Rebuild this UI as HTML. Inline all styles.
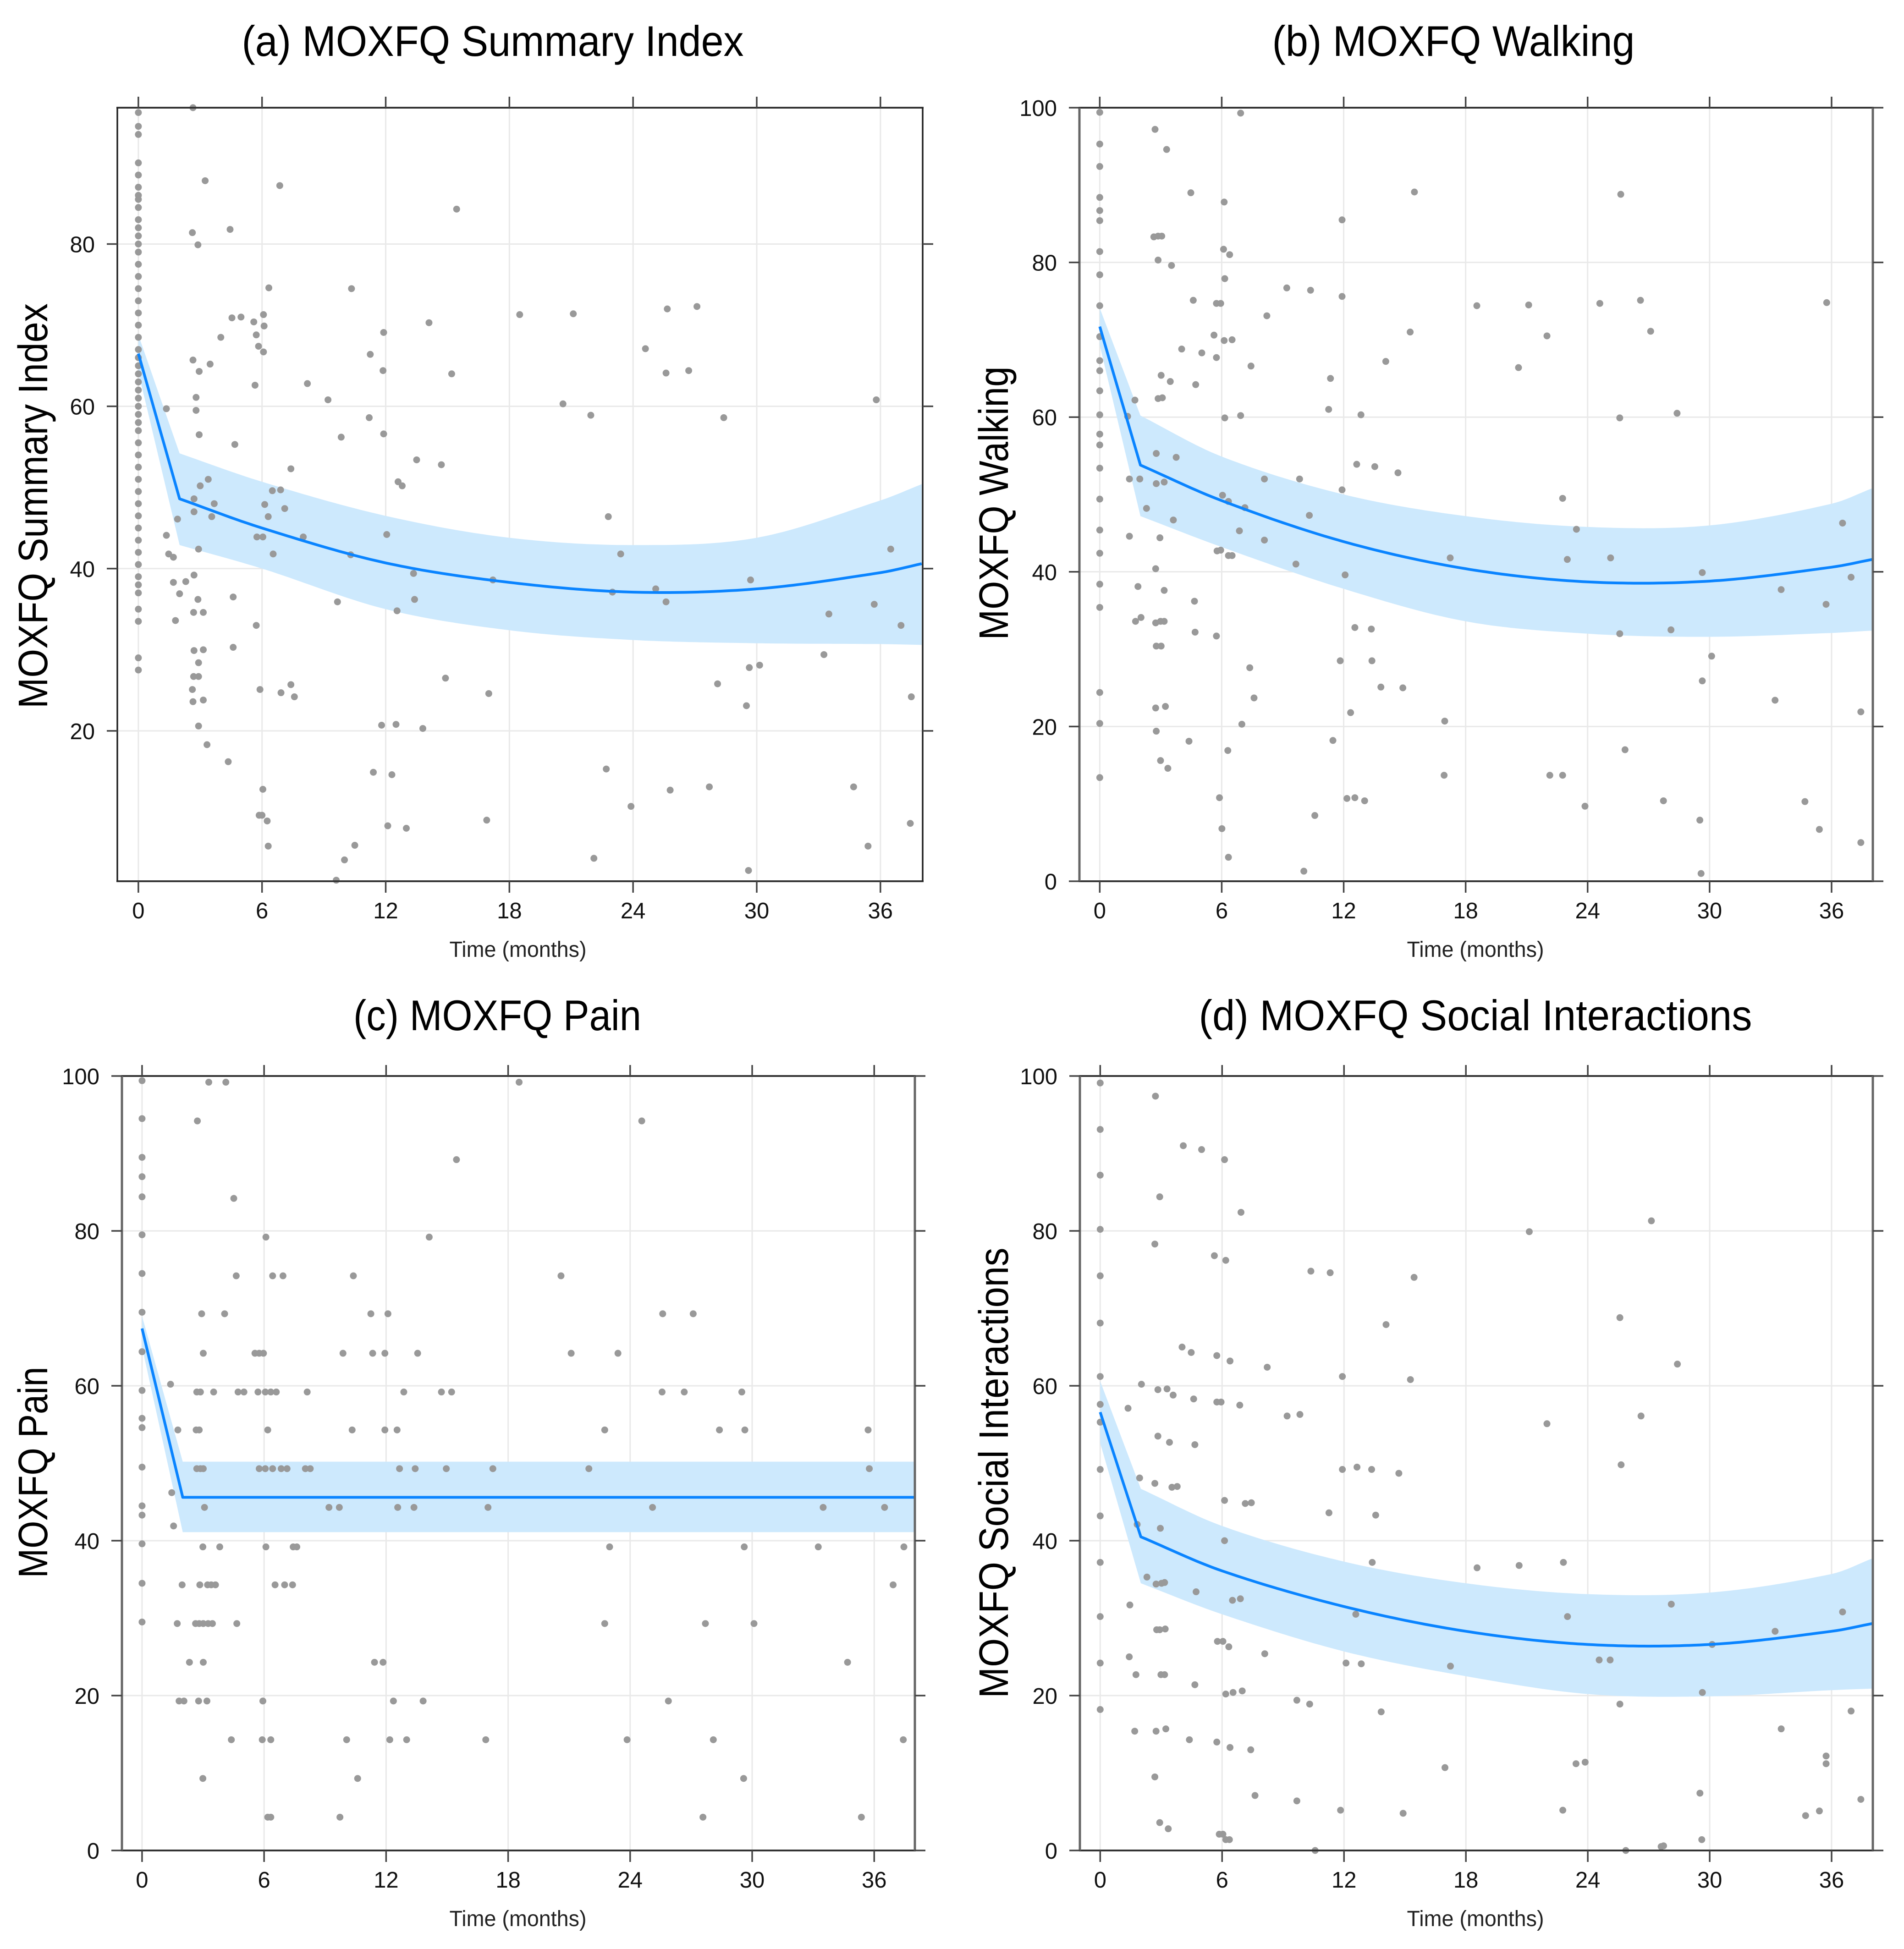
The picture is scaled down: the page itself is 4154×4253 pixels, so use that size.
<!DOCTYPE html>
<html>
<head>
<meta charset="utf-8">
<style>
html,body{margin:0;padding:0;background:#fff;}
svg{display:block;}
text{font-family:"Liberation Sans","DejaVu Sans",sans-serif;}
</style>
</head>
<body>
<svg id="chart" xmlns="http://www.w3.org/2000/svg" width="4154" height="4253" viewBox="0 0 4154 4253"></svg>
<script>
// ---------- DATA ----------
const xTicks = [0, 6, 12, 18, 24, 30, 36];
const yTicksA = [20, 40, 60, 80];
const yTicksB = [0, 20, 40, 60, 80, 100];

const titles = ["(a) MOXFQ Summary Index", "(b) MOXFQ Walking", "(c) MOXFQ Pain", "(d) MOXFQ Social Interactions"];
const yLabels = ["MOXFQ Summary Index", "MOXFQ Walking", "MOXFQ Pain", "MOXFQ Social Interactions"];

// fitted curve times
const curveT = [0, 2, 6, 12, 18, 24, 30, 36, 38];
const fitA = [66.5, 48.6, 45.0, 40.7, 38.3, 37.1, 37.5, 39.5, 40.6];
const upA  = [68.8, 54.2, 50.7, 46.5, 43.8, 42.9, 43.8, 48.4, 50.4];
const loA  = [64.2, 42.9, 40.0, 35.0, 32.4, 31.2, 30.8, 30.7, 30.6];
const fitB = [71.7, 53.8, 49.2, 43.9, 40.4, 38.7, 38.8, 40.6, 41.6];
const upB  = [74.1, 60.2, 54.9, 50.0, 47.2, 45.8, 46.0, 48.8, 50.8];
const loB  = [69.3, 47.2, 43.2, 37.8, 33.6, 32.0, 31.6, 32.1, 32.4];
const fitC = [67.4, 45.6, 45.6, 45.6, 45.6, 45.6, 45.6, 45.6, 45.6];
const upC  = [69.0, 50.2, 50.2, 50.2, 50.2, 50.2, 50.2, 50.2, 50.2];
const loC  = [65.0, 41.1, 41.1, 41.1, 41.1, 41.1, 41.1, 41.1, 41.1];
const fitD = [56.6, 40.5, 36.1, 31.5, 28.3, 26.6, 26.6, 28.3, 29.3];
const upD  = [60.6, 46.7, 41.9, 37.3, 34.5, 33.1, 33.3, 35.7, 37.7];
const loD  = [52.6, 34.5, 30.5, 25.7, 22.5, 20.2, 19.9, 20.7, 20.9];

// observed points [time, score]
const baseA = [96.2,94.5,93.5,90,88.5,87,86,85.5,84.5,83,82,81,80,79,77.5,76,74.5,73,71.5,70,68.5,67,66,65,64,63,62,61,60,59,58,57,55.5,54,52.5,51,49.5,48,46.5,45,43.5,42,40.5,39,38,37,35,33.5,29,27.5];
const ptsA = [[2.62,81.4],[2.89,79.9],[3.24,87.8],[4.45,81.8],[6.86,87.2],[15.44,84.3],[6.33,74.6],[10.34,74.5],[4.54,70.9],[4.98,71.0],[5.6,70.4],[6.07,71.3],[6.1,69.9],[5.83,67.4],[6.07,66.7],[5.72,68.8],[4.0,68.5],[2.65,65.7],[3.48,65.2],[2.95,64.3],[5.66,62.6],[2.8,61.1],[2.8,59.5],[1.36,59.7],[2.95,56.5],[4.68,55.3],[11.9,69.1],[11.25,66.4],[11.87,64.4],[18.5,71.3],[21.1,71.4],[14.1,70.3],[25.66,72.0],[27.1,72.3],[24.6,67.1],[25.6,64.1],[26.7,64.4],[15.2,64.0],[8.2,62.8],[9.2,60.8],[20.6,60.3],[21.95,58.9],[28.4,58.6],[35.8,60.8],[11.2,58.6],[11.9,56.6],[9.84,56.2],[13.5,53.4],[14.7,52.8],[7.4,52.3],[12.6,50.7],[12.8,50.2],[3.39,51.0],[3.0,50.2],[3.68,48.0],[2.7,48.6],[2.7,47.0],[3.56,46.4],[1.9,46.1],[6.13,47.9],[6.5,49.6],[6.9,49.7],[7.1,47.4],[6.3,46.4],[5.75,43.9],[6.04,43.9],[6.54,41.8],[8.0,43.9],[10.3,41.7],[12.05,44.2],[1.36,44.1],[1.47,41.8],[1.7,41.4],[2.92,42.4],[22.8,46.4],[23.4,41.8],[36.5,42.4],[1.7,38.3],[2.3,38.4],[2.7,39.2],[13.35,39.4],[17.2,38.6],[25.1,37.5],[23.0,37.1],[25.6,35.9],[29.7,38.6],[35.7,35.6],[37.0,33.0],[33.5,34.4],[9.66,35.9],[13.4,36.2],[12.55,34.8],[2.0,36.9],[2.89,36.2],[4.6,36.5],[2.68,34.6],[3.15,34.6],[1.8,33.6],[5.72,33.0],[2.7,29.9],[3.15,30.0],[4.6,30.3],[33.26,29.4],[29.64,27.8],[30.14,28.1],[2.68,26.7],[2.92,26.7],[2.92,28.4],[2.62,25.1],[5.9,25.1],[6.92,24.7],[7.4,25.7],[7.57,24.2],[2.65,23.6],[3.15,23.8],[14.9,26.5],[17.0,24.6],[28.1,25.8],[37.5,24.2],[29.5,23.1],[2.92,20.6],[11.8,20.7],[12.5,20.8],[13.8,20.3],[3.33,18.3],[4.36,16.2],[11.4,14.9],[12.3,14.6],[22.7,15.3],[6.04,12.8],[25.8,12.7],[27.7,13.1],[34.7,13.1],[5.86,9.6],[6.0,9.6],[6.25,8.9],[12.1,8.3],[13.0,8.0],[16.9,9.0],[23.9,10.7],[37.45,8.6],[6.3,5.8],[10.5,5.9],[10.0,4.1],[35.4,5.8],[22.1,4.3],[29.6,2.8],[9.6,1.6],[2.65,96.8]];

const baseB = [99.4,95.3,92.4,88.4,86.7,85.4,81.4,78.4,74.4,70.4,67.3,66.0,63.4,60.3,57.8,56.4,53.4,49.4,45.4,42.4,38.4,35.4,24.4,20.4,13.4];
const ptsB = [[2.72,97.2],[3.29,94.6],[6.93,99.3],[4.48,89.0],[6.12,87.8],[15.48,89.1],[25.63,88.8],[11.92,85.5],[2.66,83.3],[2.87,83.4],[3.05,83.4],[6.09,81.7],[6.39,81.0],[2.87,80.3],[3.53,79.6],[6.15,77.9],[9.2,76.7],[10.37,76.4],[4.6,75.1],[5.74,74.7],[5.95,74.7],[11.92,75.6],[8.22,73.1],[18.55,74.4],[21.1,74.5],[24.6,74.7],[26.6,75.1],[27.1,71.1],[15.27,71.0],[22.0,70.5],[35.76,74.8],[5.62,70.6],[6.12,69.9],[6.51,70.0],[4.03,68.8],[5.02,68.3],[5.74,67.7],[14.07,67.2],[7.44,66.6],[20.6,66.4],[3.02,65.4],[3.47,64.6],[4.72,64.2],[11.35,65.0],[2.87,62.4],[3.08,62.5],[1.73,62.2],[11.26,61.0],[6.93,60.2],[6.15,59.9],[12.85,60.3],[25.58,59.9],[28.4,60.5],[1.37,60.1],[2.78,55.3],[3.76,54.8],[12.64,53.9],[13.53,53.6],[14.67,52.8],[1.46,52.0],[1.97,52.0],[3.17,51.6],[2.78,51.4],[8.1,52.0],[9.83,52.0],[11.92,50.6],[6.04,49.9],[6.33,49.1],[7.14,48.3],[2.3,48.2],[3.62,46.7],[10.31,47.3],[6.87,45.3],[22.77,49.5],[23.45,45.5],[36.54,46.3],[1.46,44.6],[2.96,44.4],[8.1,44.1],[5.77,42.7],[5.95,42.8],[6.33,42.1],[6.51,42.1],[17.24,41.8],[23.0,41.6],[25.13,41.8],[9.65,41.0],[12.07,39.6],[2.75,40.4],[1.88,38.1],[3.17,37.6],[29.64,39.9],[33.52,37.7],[36.96,39.3],[35.73,35.8],[4.66,36.2],[1.76,33.6],[2.03,34.1],[2.75,33.4],[2.99,33.6],[3.17,33.6],[4.69,32.2],[5.74,31.7],[25.58,32.0],[28.1,32.5],[12.55,32.8],[13.36,32.6],[2.78,30.4],[3.02,30.4],[30.1,29.1],[11.83,28.5],[13.39,28.5],[7.38,27.6],[13.83,25.1],[14.91,25.0],[29.64,25.9],[33.22,23.4],[7.59,23.7],[2.75,22.4],[3.23,22.6],[12.34,21.8],[37.44,21.9],[6.99,20.3],[16.97,20.7],[2.78,19.4],[4.39,18.1],[11.47,18.2],[2.99,15.6],[3.35,14.6],[6.3,16.9],[25.84,17.0],[16.94,13.7],[22.14,13.7],[22.77,13.7],[5.89,10.8],[12.16,10.7],[12.55,10.8],[13.03,10.4],[27.73,10.4],[34.69,10.3],[23.87,9.7],[10.58,8.5],[6.01,6.8],[29.52,7.9],[35.4,6.7],[37.44,5.0],[6.33,3.1],[10.04,1.3],[29.58,1.0]];

const baseC = [99.4,94.5,89.5,87.0,84.4,79.5,74.5,69.5,64.4,59.4,55.8,54.6,49.5,44.5,43.3,39.6,34.5,29.5];
const ptsC = [[3.28,99.2],[4.12,99.2],[2.72,94.2],[18.54,99.2],[24.57,94.2],[15.46,89.2],[4.51,84.2],[6.09,79.2],[14.12,79.2],[4.63,74.2],[6.42,74.2],[6.93,74.2],[10.39,74.2],[20.6,74.2],[2.93,69.3],[4.06,69.3],[11.25,69.3],[12.09,69.3],[25.6,69.3],[27.1,69.3],[3.01,64.2],[5.55,64.2],[5.76,64.2],[5.97,64.2],[9.88,64.2],[11.34,64.2],[11.94,64.2],[13.55,64.2],[21.1,64.2],[23.4,64.2],[1.4,60.2],
[2.69,59.2],[2.87,59.2],[3.52,59.2],[4.72,59.2],[5.01,59.2],[5.7,59.2],[6.06,59.2],[6.33,59.2],[6.6,59.2],[8.12,59.2],[12.87,59.2],[14.72,59.2],[15.22,59.2],[25.57,59.2],[26.66,59.2],[29.49,59.2],
[1.76,54.3],[2.66,54.3],[2.81,54.3],[6.18,54.3],[10.33,54.3],[11.94,54.3],[12.54,54.3],[22.75,54.3],[28.39,54.3],[29.64,54.3],[35.7,54.3],
[2.69,49.3],[2.87,49.3],[3.01,49.3],[5.76,49.3],[6.06,49.3],[6.42,49.3],[6.84,49.3],[7.13,49.3],[8.03,49.3],[8.27,49.3],[12.66,49.3],[13.43,49.3],[14.96,49.3],[17.25,49.3],[21.97,49.3],[35.76,49.3],
[1.46,46.2],[1.55,41.9],
[3.07,44.3],[9.19,44.3],[9.7,44.3],[12.57,44.3],[13.37,44.3],[17.01,44.3],[25.1,44.3],[33.49,44.3],[36.51,44.3],
[2.99,39.2],[3.82,39.2],[6.09,39.2],[7.43,39.2],[7.61,39.2],[22.99,39.2],[29.61,39.2],[33.25,39.2],[37.46,39.2],
[1.97,34.3],[2.84,34.3],[3.22,34.3],[3.4,34.3],[3.61,34.3],[6.54,34.3],[7.01,34.3],[7.4,34.3],[36.93,34.3],
[1.73,29.3],[2.63,29.3],[2.81,29.3],[3.01,29.3],[3.25,29.3],[3.46,29.3],[4.66,29.3],[22.75,29.3],[27.7,29.3],[30.09,29.3],
[2.33,24.3],[3.01,24.3],[11.43,24.3],[11.85,24.3],[34.69,24.3],
[1.82,19.3],[2.06,19.3],[2.78,19.3],[3.19,19.3],[5.94,19.3],[12.36,19.3],[13.82,19.3],[25.88,19.3],
[4.39,14.3],[5.91,14.3],[6.33,14.3],[10.06,14.3],[12.18,14.3],[13.01,14.3],[16.9,14.3],[23.85,14.3],[28.09,14.3],[37.43,14.3],
[2.99,9.3],[10.6,9.3],[29.58,9.3],
[6.18,4.3],[6.33,4.3],[9.73,4.3],[27.58,4.3],[35.37,4.3]];

const baseD = [99.1,93.1,87.2,80.2,74.2,68.1,61.2,57.6,55.3,49.2,43.2,37.2,30.2,24.2,18.2];
const ptsD = [[2.72,97.4],[4.09,91.0],[4.99,90.5],[6.12,89.2],[2.93,84.4],[6.93,82.4],[2.69,78.3],[21.12,79.9],[27.13,81.3],[5.62,76.8],[6.18,76.2],[10.37,74.8],[11.32,74.6],[15.45,74.0],[14.07,67.9],[25.58,68.8],[4.03,65.0],[4.48,64.3],[5.74,63.9],[6.39,63.2],[8.22,62.4],[11.92,61.2],[28.41,62.8],[15.27,60.8],[2.03,60.2],[2.84,59.5],[3.29,59.6],[3.59,58.8],[1.37,57.1],[4.6,58.3],[5.74,57.9],[5.95,57.9],[6.87,57.5],[9.2,56.1],[9.83,56.3],[26.62,56.1],[21.99,55.1],[2.84,53.5],[3.41,52.7],[4.66,52.4],[25.64,49.8],[11.92,49.2],[12.64,49.5],[13.36,49.2],[14.7,48.7],[1.94,48.1],[2.69,47.4],[3.53,46.9],[3.79,47.0],[6.12,45.2],[7.14,44.8],[7.44,44.9],[11.26,43.6],[13.56,43.3],[1.82,42.1],[2.96,41.6],[6.12,40.0],[13.39,37.2],[18.55,36.5],[20.62,36.8],[22.8,37.2],[2.3,35.3],[2.75,34.4],[3.02,34.5],[3.17,34.6],[4.72,33.4],[6.51,32.3],[6.9,32.5],[1.46,31.7],[28.11,31.8],[36.54,30.8],[23.0,30.2],[12.58,30.5],[2.78,28.5],[2.93,28.5],[3.2,28.6],[33.22,28.3],[5.77,27.0],[6.04,27.0],[6.33,26.3],[30.12,26.6],[1.43,25.0],[8.1,25.4],[24.56,24.6],[25.1,24.6],[12.1,24.2],[12.85,24.1],[17.24,23.8],[1.76,22.7],[2.99,22.7],[3.17,22.7],[4.66,21.4],[6.18,20.2],[6.54,20.4],[6.99,20.6],[29.64,20.4],[9.68,19.4],[10.31,18.9],[25.58,18.9],[13.83,17.9],[36.96,18.0],[1.7,15.4],[2.75,15.4],[3.23,15.7],[33.52,15.7],[4.39,14.3],[5.74,14.0],[6.39,13.3],[7.41,13.0],[16.97,10.7],[35.73,12.2],[35.73,11.2],[23.42,11.2],[23.87,11.4],[2.69,9.5],[29.52,7.4],[37.44,6.6],[7.62,7.1],[9.68,6.4],[11.83,5.2],[22.77,5.2],[14.91,4.8],[34.72,4.5],[35.4,5.1],[2.93,3.6],[3.35,2.8],[5.86,2.1],[6.04,2.1],[6.18,1.4],[6.36,1.4],[29.61,1.4],[27.61,0.5],[27.73,0.6],[25.87,0.0],[10.58,0.0]];

// ---------- LAYOUT ----------
const NS = "http://www.w3.org/2000/svg";
const svg = document.getElementById("chart");
function mk(tag, attrs, parent){
  const e = document.createElementNS(NS, tag);
  for (const k in attrs) e.setAttribute(k, attrs[k]);
  (parent || svg).appendChild(e);
  return e;
}

const panels = [
  {key:"a", L:256, R:2013, T:235, B:1923, xmin:-1.02, xmax:38.05, ymin:1.47, ymax:96.8, yt:yTicksA,
   fit:fitA, up:upA, lo:loA, base:baseA, pts:ptsA, title:titles[0], ylab:yLabels[0],
   tx:1075, ty:122, tw:1095, lx:103, ly:1104, lw:884, xlx:1130, sideCol:"#222", sideW:3.5},
  {key:"b", L:2355, R:4086, T:235, B:1923, xmin:-1, xmax:38.03, ymin:0, ymax:100, yt:yTicksB,
   fit:fitB, up:upB, lo:loB, base:baseB, pts:ptsB, title:titles[1], ylab:yLabels[1],
   tx:3171, ty:122, tw:791, lx:2199, ly:1098, lw:597, xlx:3219, sideCol:"#666", sideW:5},
  {key:"c", L:266, R:1996, T:2348, B:4038, xmin:-0.99, xmax:38.0, ymin:0, ymax:100, yt:yTicksB,
   fit:fitC, up:upC, lo:loC, base:baseC, pts:ptsC, title:titles[2], ylab:yLabels[2],
   tx:1085, ty:2248, tw:628, lx:103, ly:3213, lw:461, xlx:1130, sideCol:"#666", sideW:5},
  {key:"d", L:2356, R:4086, T:2348, B:4038, xmin:-1, xmax:38.03, ymin:0, ymax:100, yt:yTicksB,
   fit:fitD, up:upD, lo:loD, base:baseD, pts:ptsD, title:titles[3], ylab:yLabels[3],
   tx:3219, ty:2248, tw:1207, lx:2199, ly:3214, lw:983, xlx:3219, sideCol:"#666", sideW:5}
];

// linear on first segment (knot), smooth Hermite spline afterwards
function curveVal(ts, vs, t){
  if (t <= ts[1]) return vs[0] + (vs[1]-vs[0])*(t-ts[0])/(ts[1]-ts[0]);
  const n = ts.length;
  function slope(j){
    if (j <= 1) return (vs[2]-vs[1])/(ts[2]-ts[1]);
    if (j >= n-1) return (vs[n-1]-vs[n-2])/(ts[n-1]-ts[n-2]);
    return (vs[j+1]-vs[j-1])/(ts[j+1]-ts[j-1]);
  }
  let i = 1;
  while (i < n-2 && t > ts[i+1]) i++;
  const t0=ts[i], t1=ts[i+1], h=t1-t0;
  const u=Math.min(1,(t-t0)/h);
  const p1=vs[i], p2=vs[i+1];
  const m1 = slope(i)*h, m2 = slope(i+1)*h;
  const u2=u*u, u3=u2*u;
  return (2*u3-3*u2+1)*p1 + (u3-2*u2+u)*m1 + (-2*u3+3*u2)*p2 + (u3-u2)*m2;
}

panels.forEach(p => {
  const g = mk("g", {});
  
  
  const X = t => p.L + (t - p.xmin) / (p.xmax - p.xmin) * (p.R - p.L);
  const Y = v => p.B - (v - p.ymin) / (p.ymax - p.ymin) * (p.B - p.T);

  const ti = mk("text", {x:p.tx, y:p.ty, "text-anchor":"middle", "font-size":94, fill:"#000", textLength:p.tw, lengthAdjust:"spacingAndGlyphs"}, g);
  ti.textContent = p.title;
  
  

  const yl = mk("text", {x:0, y:0, "text-anchor":"middle", "font-size":90, fill:"#000", textLength:p.lw, lengthAdjust:"spacingAndGlyphs", transform:`translate(${p.lx},${p.ly}) rotate(-90)`}, g);
  yl.textContent = p.ylab;
  
  

  const xl = mk("text", {x:p.xlx, y:p.B+165, "text-anchor":"middle", "font-size":48, fill:"#222", textLength:299, lengthAdjust:"spacingAndGlyphs"}, g);
  xl.textContent = "Time (months)";
  
  

  xTicks.forEach(t => {
    const l = mk("line", {x1:X(t), x2:X(t), y1:p.T, y2:p.B, stroke:"#e9e9e9", "stroke-width":3}, g);
    
    
  });
  p.yt.forEach(v => {
    const l = mk("line", {x1:p.L, x2:p.R, y1:Y(v), y2:Y(v), stroke:"#e9e9e9", "stroke-width":3}, g);
    
    
  });

  let upPts = [], loPts = [];
  for (let t = 0; t <= 38.0001; t += 0.25) {
    upPts.push(X(t).toFixed(1) + "," + Y(curveVal(curveT, p.up, t)).toFixed(1));
    loPts.push(X(t).toFixed(1) + "," + Y(curveVal(curveT, p.lo, t)).toFixed(1));
  }
  const band = mk("polygon", {points: upPts.concat(loPts.reverse()).join(" "), fill:"#cde9fd", stroke:"none"}, g);
  
  

  const pg = mk("g", {fill:"#999999"}, g);
  
  
  p.base.forEach(v => {
    const c = mk("circle", {cx:X(0), cy:Y(v), r:7.5}, pg);
    
    
  });
  p.pts.forEach(d => {
    const c = mk("circle", {cx:X(d[0]), cy:Y(d[1]), r:7.5}, pg);
    
    
  });

  let fp = [];
  for (let t = 0; t <= 38.0001; t += 0.25) fp.push(X(t).toFixed(1) + "," + Y(curveVal(curveT, p.fit, t)).toFixed(1));
  const fl = mk("polyline", {points: fp.join(" "), fill:"none", stroke:"#0a84ff", "stroke-width":6, "stroke-linejoin":"round"}, g);
  
  

  const bt = mk("line", {x1:p.L-2, x2:p.R+2, y1:p.T, y2:p.T, stroke:"#333", "stroke-width":4}, g);
  
  
  const bb = mk("line", {x1:p.L-2, x2:p.R+2, y1:p.B, y2:p.B, stroke:"#333", "stroke-width":4}, g);
  
  
  const bl = mk("line", {x1:p.L, x2:p.L, y1:p.T, y2:p.B, stroke:p.sideCol, "stroke-width":p.sideW}, g);
  
  
  const br = mk("line", {x1:p.R, x2:p.R, y1:p.T, y2:p.B, stroke:p.sideCol, "stroke-width":p.sideW}, g);
  
  

  xTicks.forEach(t => {
    const a = mk("line", {x1:X(t), x2:X(t), y1:p.B, y2:p.B+25, stroke:"#444", "stroke-width":3.5}, g);
    
    
    const b = mk("line", {x1:X(t), x2:X(t), y1:p.T-24, y2:p.T, stroke:"#444", "stroke-width":3.5}, g);
    
    
    const tx = mk("text", {x:X(t), y:p.B+81, "text-anchor":"middle", "font-size":49, fill:"#111"}, g);
    tx.textContent = String(t);
    
    
  });
  p.yt.forEach(v => {
    const a = mk("line", {x1:p.L-23, x2:p.L, y1:Y(v), y2:Y(v), stroke:"#444", "stroke-width":3.5}, g);
    
    
    const b = mk("line", {x1:p.R, x2:p.R+23, y1:Y(v), y2:Y(v), stroke:"#444", "stroke-width":3.5}, g);
    
    
    const tx = mk("text", {x:p.L-49, y:Y(v)+18, "text-anchor":"end", "font-size":49, fill:"#111"}, g);
    tx.textContent = String(v);
    
    
  });
});
</script>
</body>
</html>
